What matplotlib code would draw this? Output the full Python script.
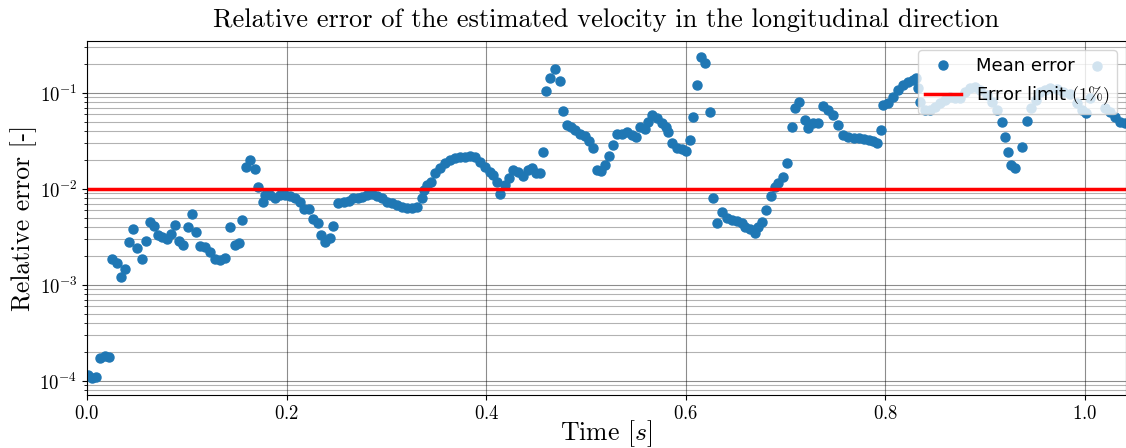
import numpy as np
import matplotlib
matplotlib.use('Agg')
import matplotlib.pyplot as plt

plt.rcParams['font.family'] = 'cmr10'
plt.rcParams['mathtext.fontset'] = 'cm'
plt.rcParams['axes.formatter.use_mathtext'] = True

# --- data (time [s], mean relative error [-]) ---
time = [
    0.001, 0.005, 0.009, 0.013, 0.018, 0.022, 0.025, 0.030, 0.034, 0.038,
    0.042, 0.046, 0.050, 0.055, 0.059, 0.063, 0.067, 0.071, 0.075, 0.080,
    0.084, 0.088, 0.092, 0.096, 0.101, 0.105, 0.109, 0.113, 0.118, 0.123,
    0.128, 0.133, 0.138, 0.143, 0.148, 0.152, 0.155, 0.159, 0.163, 0.168,
    0.171, 0.176, 0.178, 0.183, 0.188, 0.193, 0.198, 0.203, 0.208, 0.213,
    0.217, 0.222, 0.226, 0.231, 0.234, 0.238, 0.243, 0.246, 0.251, 0.257,
    0.262, 0.266, 0.271, 0.276, 0.281, 0.286, 0.291, 0.296, 0.301, 0.306,
    0.311, 0.316, 0.321, 0.326, 0.331, 0.336, 0.338, 0.341, 0.345, 0.349,
    0.354, 0.359, 0.364, 0.369, 0.374, 0.379, 0.384, 0.389, 0.394, 0.399,
    0.404, 0.407, 0.411, 0.414, 0.419, 0.423, 0.427, 0.432, 0.437, 0.442,
    0.446, 0.450, 0.454, 0.457, 0.460, 0.464, 0.469, 0.474, 0.477, 0.481,
    0.485, 0.489, 0.494, 0.499, 0.503, 0.507, 0.511, 0.515, 0.519, 0.523,
    0.527, 0.531, 0.536, 0.541, 0.546, 0.550, 0.554, 0.559, 0.562, 0.566,
    0.571, 0.576, 0.580, 0.582, 0.586, 0.591, 0.596, 0.600, 0.604, 0.607,
    0.611, 0.615, 0.619, 0.624, 0.627, 0.631, 0.636, 0.641, 0.646, 0.651,
    0.656, 0.659, 0.664, 0.669, 0.672, 0.676, 0.680, 0.685, 0.689, 0.692,
    0.697, 0.701, 0.706, 0.709, 0.713, 0.719, 0.722, 0.727, 0.732, 0.737,
    0.742, 0.747, 0.752, 0.757, 0.762, 0.768, 0.773, 0.778, 0.783, 0.788,
    0.792, 0.796, 0.798, 0.803, 0.808, 0.813, 0.818, 0.823, 0.828, 0.831,
    0.833, 0.835, 0.840, 0.845, 0.850, 0.855, 0.860, 0.865, 0.870, 0.875,
    0.880, 0.885, 0.890, 0.895, 0.902, 0.907, 0.912, 0.917, 0.920, 0.923,
    0.926, 0.930, 0.937, 0.942, 0.946, 0.951, 0.955, 0.960, 0.965, 0.972,
    0.978, 0.985, 0.992, 0.997, 1.001, 1.005, 1.012, 1.020, 1.025, 1.030,
    1.035, 1.040,
]

mean_error = [
    1.15e-4, 1.07e-4, 1.10e-4, 1.74e-4, 1.82e-4, 1.78e-4, 1.87e-3, 1.69e-3, 1.21e-3, 1.47e-3,
    2.80e-3, 3.83e-3, 2.43e-3, 1.87e-3, 2.87e-3, 4.53e-3, 4.12e-3, 3.32e-3, 3.16e-3, 3.02e-3,
    3.40e-3, 4.22e-3, 2.87e-3, 2.61e-3, 4.02e-3, 5.49e-3, 3.56e-3, 2.55e-3, 2.49e-3, 2.21e-3,
    1.87e-3, 1.82e-3, 1.90e-3, 4.02e-3, 2.61e-3, 2.74e-3, 4.76e-3, 1.69e-2, 2.00e-2, 1.62e-2,
    1.05e-2, 7.32e-3, 8.66e-3, 8.66e-3, 8.06e-3, 8.66e-3, 8.66e-3, 8.45e-3, 8.06e-3, 7.32e-3,
    6.19e-3, 6.19e-3, 4.87e-3, 4.43e-3, 3.32e-3, 2.80e-3, 3.09e-3, 4.12e-3, 7.15e-3, 7.32e-3,
    7.50e-3, 8.06e-3, 8.06e-3, 8.25e-3, 8.66e-3, 8.87e-3, 8.45e-3, 8.06e-3, 7.32e-3, 7.15e-3,
    6.81e-3, 6.49e-3, 6.34e-3, 6.34e-3, 6.49e-3, 8.06e-3, 9.76e-3, 1.10e-2, 1.18e-2, 1.47e-2,
    1.66e-2, 1.87e-2, 2.00e-2, 2.10e-2, 2.15e-2, 2.15e-2, 2.21e-2, 2.15e-2, 1.91e-2, 1.69e-2,
    1.50e-2, 1.40e-2, 1.18e-2, 8.87e-3, 1.10e-2, 1.30e-2, 1.58e-2, 1.50e-2, 1.37e-2, 1.58e-2,
    1.66e-2, 1.47e-2, 1.47e-2, 2.43e-2, 1.05e-1, 1.43e-1, 1.78e-1, 1.33e-1, 6.50e-2, 4.64e-2,
    4.42e-2, 4.12e-2, 3.74e-2, 3.56e-2, 3.16e-2, 2.67e-2, 1.58e-2, 1.54e-2, 1.78e-2, 2.21e-2,
    2.87e-2, 3.74e-2, 3.74e-2, 3.92e-2, 3.65e-2, 3.48e-2, 4.42e-2, 4.22e-2, 4.99e-2, 5.90e-2,
    5.49e-2, 4.87e-2, 4.42e-2, 3.92e-2, 3.01e-2, 2.67e-2, 2.61e-2, 2.49e-2, 3.24e-2, 5.62e-2,
    1.21e-1, 2.37e-1, 2.05e-1, 6.34e-2, 8.06e-3, 4.43e-3, 5.76e-3, 4.99e-3, 4.76e-3, 4.64e-3,
    4.43e-3, 4.02e-3, 3.83e-3, 3.48e-3, 4.02e-3, 4.53e-3, 6.04e-3, 8.45e-3, 1.05e-2, 1.16e-2,
    1.33e-2, 1.87e-2, 4.42e-2, 6.98e-2, 8.06e-2, 5.23e-2, 4.32e-2, 4.87e-2, 4.87e-2, 7.32e-2,
    6.65e-2, 5.90e-2, 4.64e-2, 3.65e-2, 3.48e-2, 3.40e-2, 3.40e-2, 3.32e-2, 3.24e-2, 3.16e-2,
    3.01e-2, 4.12e-2, 7.50e-2, 7.87e-2, 9.09e-2, 1.07e-1, 1.21e-1, 1.30e-1, 1.37e-1, 1.43e-1,
    1.13e-1, 8.06e-2, 6.65e-2, 6.65e-2, 7.15e-2, 7.87e-2, 8.45e-2, 9.09e-2, 8.87e-2, 8.87e-2,
    1.02e-1, 1.13e-1, 1.15e-1, 1.07e-1, 9.53e-2, 8.06e-2, 6.65e-2, 4.99e-2, 3.48e-2, 2.43e-2,
    1.78e-2, 1.66e-2, 2.74e-2, 5.11e-2, 6.98e-2, 8.45e-2, 1.02e-1, 1.07e-1, 1.13e-1, 1.10e-1,
    1.02e-1, 9.80e-2, 7.87e-2, 6.65e-2, 6.19e-2, 8.87e-2, 1.91e-1, 6.98e-2, 6.34e-2, 5.62e-2,
    4.99e-2, 4.87e-2,
]

ERROR_LIMIT = 0.01

# --- Figure ---
fig = plt.figure(figsize=(11.26, 4.48), dpi=100)
ax = fig.add_axes([0.0773, 0.1183, 0.9227, 0.7902])

ax.plot(time, mean_error, 'o', color='#1f77b4', markersize=6.5, label='Mean error')
ax.axhline(ERROR_LIMIT, color='red', linewidth=2.5, label=r'Error limit $(1\%)$')

ax.set_yscale('log')
ax.set_xlim(0, 1.041)
ax.set_ylim(7.15e-5, 0.348)
ax.set_xticks([0.0, 0.2, 0.4, 0.6, 0.8, 1.0])

ax.grid(which='major', color='black', alpha=0.45, linewidth=0.8)
ax.yaxis.grid(which='minor', color='black', alpha=0.3, linewidth=0.8)
ax.set_axisbelow(True)

ax.tick_params(labelsize=13.5)
ax.set_xlabel(r'Time [$s$]', fontsize=18.5, labelpad=-3)
ax.set_ylabel('Relative error [-]', fontsize=18.5, labelpad=2)
ax.set_title('Relative error of the estimated velocity in the longitudinal direction',
             fontsize=19, pad=10)

ax.legend(loc='upper right', prop={'family': 'DejaVu Sans', 'size': 13},
          borderaxespad=0.5)

fig.savefig('out.png', dpi=100)
plt.close()
